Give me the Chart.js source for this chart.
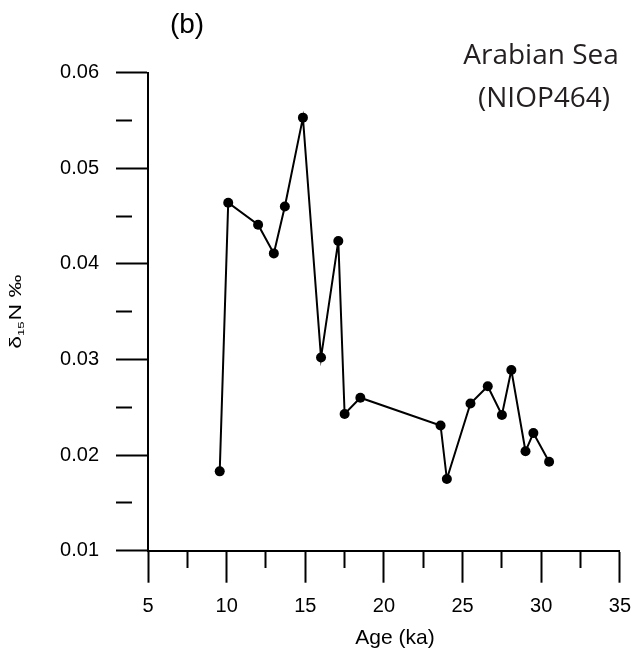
<!DOCTYPE html>
<html>
<head>
<meta charset="utf-8">
<script src="https://cdn.jsdelivr.net/npm/chart.js@4.4.1/dist/chart.umd.min.js"></script>
<style>
  html, body { margin: 0; padding: 0; background: #fff; }
</style>
</head>
<body>
<canvas id="chart" width="643" height="653"></canvas>
<script>
// NIOP464, Arabian Sea
const ages = [9.56, 10.1, 12.0, 13.0, 13.7, 14.85, 16.0, 17.1, 17.5, 18.5, 23.6, 24.0, 25.5, 26.6, 27.5, 28.1, 29.0, 29.5, 30.5];
const d15n = [0.0183, 0.0464, 0.0441, 0.0411, 0.0460, 0.0553, 0.0302, 0.0424, 0.0243, 0.0260, 0.0231, 0.0175, 0.0254, 0.0272, 0.0242, 0.0289, 0.0204, 0.0223, 0.0193];

const xTickValues = [5, 7.5, 10, 12.5, 15, 17.5, 20, 22.5, 25, 27.5, 30, 32.5, 35];
const xTickLabels = ["5", "", "10", "", "15", "", "20", "", "25", "", "30", "", "35"];
const yTickValues = [0.01, 0.015, 0.02, 0.025, 0.03, 0.035, 0.04, 0.045, 0.05, 0.055, 0.06];
const yTickLabels = ["0.01", "", "0.02", "", "0.03", "", "0.04", "", "0.05", "", "0.06"];

const FONT = "'Liberation Sans', Arial, sans-serif";

function isMinor(labels, ctx) {
    return ctx.index != null && labels[ctx.index] === "";
}

// free text: panel tag, site name, axis titles (subscript on the y title)
const textPlugin = {
    id: "texts",
    afterDraw(chart) {
        const c = chart.ctx;
        const area = chart.chartArea;
        c.save();
        c.fillStyle = "#000";
        c.textBaseline = "alphabetic";
        c.textAlign = "center";

        c.font = "28px " + FONT;
        c.fillText("(b)", 187, 33);

        c.fillStyle = "#231f20";
        c.font = "28px 'Open Sans', sans-serif";
        c.fillText("Arabian Sea", 541, 64);
        c.fillText("(NIOP464)", 544, 107);

        c.fillStyle = "#000";
        c.font = "21px " + FONT;
        c.fillText("Age (ka)", 395, 644);

        // y title: δ15N ‰ rotated, glyphs a bit flattened like the original
        c.translate(21, (area.top + area.bottom) / 2);
        c.rotate(-Math.PI / 2);
        c.scale(1, 0.68);
        c.textAlign = "left";
        const big = "23px " + FONT, small = "13px " + FONT;
        c.font = big;
        const w1 = c.measureText("δ").width;
        const w3 = c.measureText("N ‰").width;
        c.font = small;
        const w2 = c.measureText("15").width;
        let x = -(w1 + w2 + w3 + 1) / 2;
        c.font = big;
        c.fillText("δ", x, 0);
        x += w1;
        c.font = small;
        c.fillText("15", x, 5);
        x += w2 + 1;
        c.font = big;
        c.fillText("N ‰", x, 0);
        c.restore();
    }
};

new Chart(document.getElementById("chart").getContext("2d"), {
    type: "scatter",
    data: {
        datasets: [{
            data: ages.map((a, i) => ({ x: a, y: d15n[i] })),
            showLine: true,
            borderColor: "#000",
            borderWidth: 2,
            pointRadius: 5,
            pointBackgroundColor: "#000",
            pointBorderWidth: 0
        }]
    },
    options: {
        responsive: false,
        animation: false,
        layout: { padding: { left: 0, right: 14.3, top: 72.7, bottom: 0 } },
        plugins: {
            legend: { display: false },
            tooltip: { enabled: false }
        },
        scales: {
            x: {
                type: "linear",
                min: 5,
                max: 35,
                afterBuildTicks: s => { s.ticks = xTickValues.map(v => ({ value: v })); },
                afterFit: s => { s.height = 653 - 550.7; },
                border: { display: true, color: "#000", width: 2 },
                grid: {
                    drawOnChartArea: false,
                    tickLength: 32,
                    tickWidth: 2,
                    tickColor: "#000",
                    tickBorderDash: ctx => isMinor(xTickLabels, ctx) ? [16, 60] : []
                },
                ticks: {
                    autoSkip: false,
                    maxRotation: 0,
                    padding: 12,
                    color: "#000",
                    font: { family: FONT, size: 20 },
                    callback: (v, i) => xTickLabels[i]
                }
            },
            y: {
                type: "linear",
                min: 0.01,
                max: 0.06,
                afterBuildTicks: s => { s.ticks = yTickValues.map(v => ({ value: v })); },
                afterFit: s => { s.width = 148; },
                border: { display: true, color: "#000", width: 2 },
                grid: {
                    drawOnChartArea: false,
                    tickLength: 32,
                    tickWidth: 2,
                    tickColor: "#000",
                    tickBorderDash: ctx => isMinor(yTickLabels, ctx) ? [16, 60] : []
                },
                ticks: {
                    autoSkip: false,
                    padding: 17,
                    color: "#000",
                    font: { family: FONT, size: 20 },
                    callback: (v, i) => yTickLabels[i]
                }
            }
        }
    },
    plugins: [textPlugin]
});
</script>
</body>
</html>
